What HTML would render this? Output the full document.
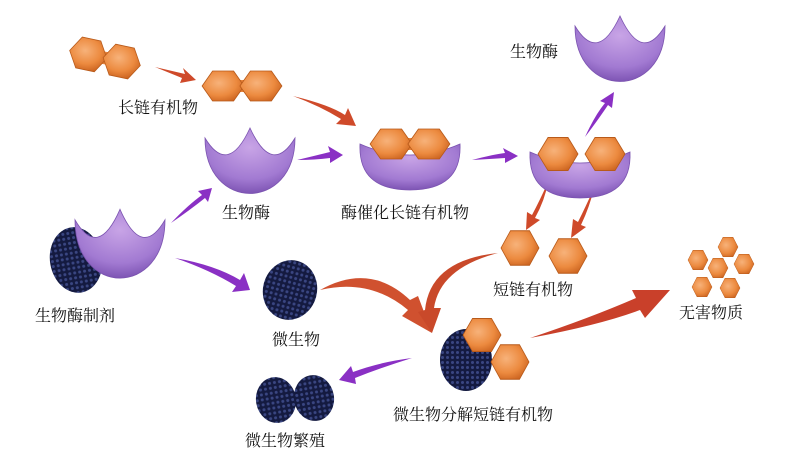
<!DOCTYPE html>
<html><head><meta charset="utf-8"><style>
html,body{margin:0;padding:0;background:#fff;}
svg{display:block}
text{font-family:"Liberation Serif","Noto Serif CJK SC","Noto Sans CJK SC",serif;font-size:16px;fill:#111;}
</style></head><body>
<svg width="800" height="474" viewBox="0 0 800 474" xmlns="http://www.w3.org/2000/svg">
<defs>
<radialGradient id="hx" cx="0.4" cy="0.4" r="0.7"><stop offset="0" stop-color="#f7b27a"/><stop offset="0.6" stop-color="#ec8a3f"/><stop offset="1" stop-color="#c85f1c"/></radialGradient>
<radialGradient id="pu" cx="0.5" cy="0.3" r="0.8"><stop offset="0" stop-color="#c8a4e6"/><stop offset="0.6" stop-color="#a27ad2"/><stop offset="1" stop-color="#6d43a6"/></radialGradient>
<pattern id="cells" width="5" height="5" patternUnits="userSpaceOnUse"><rect width="5" height="5" fill="#141a40"/><circle cx="2.5" cy="2.5" r="1.5" fill="#3a4682"/></pattern>
<polygon id="hex" points="-10,-15 10,-15 20,0 10,15 -10,15 -20,0" fill="url(#hx)" stroke="#b85a1a" stroke-width="0.8"/>
<path id="cup" d="M-45,-24 Q-22,14 0,-34 Q22,14 45,-24 C45,50 -45,50 -45,-24 Z" fill="url(#pu)" stroke="#7b53b0" stroke-width="0.8"/>
<path id="bowl" d="M-50,-16 Q0,6 50,-16 Q52,30 0,30 Q-52,30 -50,-16 Z" fill="url(#pu)" stroke="#7b53b0" stroke-width="0.8"/>
<g id="dumb"><rect x="-8" y="-6" width="18" height="12" fill="#e9843a"/><use href="#hex" x="-18"/><use href="#hex" x="18"/></g>
</defs>

<g transform="translate(105,58) rotate(12) scale(0.95,1.05)"><use href="#dumb"/></g>
<g transform="translate(242,86) scale(1.05,1)"><use href="#dumb"/></g>

<path d="M155,67 L185,74 L183,68 L196,80 L180,83 L182,78 Z" fill="#cf4a2a"/>
<path d="M293,96 Q330,105 345,115 L348,108 L356,126 L336,124 L341,119 Q320,106 293,96 Z" fill="#cf4a2a"/>
<path d="M297,160 Q318,155 330,152 L328,146 L343,155 L330,163 L330,158 Q315,160 297,160 Z" fill="#8a30c4"/>
<path d="M171,223 Q188,205 202,195 L198,191 L212,188 L208,202 L205,198 Q190,210 171,223 Z" fill="#8a30c4"/>
<path d="M472,160 Q495,154 505,153 L503,148 L518,156 L505,163 L505,158 Q490,159 472,160 Z" fill="#8a30c4"/>
<path d="M585,137 Q595,115 605,103 L600,101 L614,92 L612,108 L608,105 Q598,120 585,137 Z" fill="#8a30c4"/>
<path d="M548,182 Q540,200 532,215 L527,212 L526,230 L540,220 L535,218 Q545,200 548,182 Z" fill="#cf4a2a"/>
<path d="M594,188 Q586,206 578,222 L573,219 L571,238 L586,227 L581,225 Q590,206 594,188 Z" fill="#cf4a2a"/>
<path d="M175,258 Q215,265 240,280 L244,273 L250,290 L232,292 L236,286 Q210,270 175,258 Z" fill="#8a30c4"/>
<path d="M412,358 Q380,362 353,372 L351,366 L339,380 L356,384 L355,378 Q380,368 412,358 Z" fill="#8a30c4"/>
<path d="M320,290 Q370,262 410,300 L418,296 L432,333 L402,316 L408,310 Q370,278 320,290 Z" fill="#d0512f"/>
<path d="M498,253 Q430,260 425,310 L418,312 L432,333 L441,308 L434,308 Q440,268 498,253 Z" fill="#c9492a"/>
<path d="M530,338 Q600,325 640,310 L645,318 L670,290 L632,290 L636,298 Q590,318 530,338 Z" fill="#c9402a"/>

<use href="#cup" transform="translate(250,162)"/>
<use href="#cup" transform="translate(620,50)"/>
<ellipse cx="76" cy="260" rx="26" ry="33" fill="url(#cells)" transform="rotate(-10 76 260)"/>
<use href="#cup" transform="translate(120,245) scale(1,1.05)"/>

<use href="#bowl" transform="translate(410,160)"/>
<g transform="translate(410,144) scale(1.05,1)"><use href="#dumb"/></g>
<use href="#bowl" transform="translate(580,168)"/>
<use href="#hex" transform="translate(558,154) scale(1,1.1)"/>
<use href="#hex" transform="translate(605,154) scale(1,1.1)"/>

<use href="#hex" transform="translate(520,248) scale(0.95,1.15)"/>
<use href="#hex" transform="translate(568,256) scale(0.95,1.15)"/>

<ellipse cx="290" cy="290" rx="27" ry="30" fill="url(#cells)" transform="rotate(15 290 290)"/>
<ellipse cx="466" cy="360" rx="26" ry="31" fill="url(#cells)"/>
<use href="#hex" transform="translate(482,335) scale(0.95,1.1)"/>
<use href="#hex" transform="translate(510,362) scale(0.95,1.15)"/>
<ellipse cx="276" cy="400" rx="20" ry="23" fill="url(#cells)" transform="rotate(-10 276 400)"/>
<ellipse cx="314" cy="398" rx="20" ry="23" fill="url(#cells)" transform="rotate(-10 314 398)"/>

<use href="#hex" transform="translate(698,260) scale(0.5,0.65)"/>
<use href="#hex" transform="translate(728,247) scale(0.5,0.65)"/>
<use href="#hex" transform="translate(718,268) scale(0.5,0.65)"/>
<use href="#hex" transform="translate(744,264) scale(0.5,0.65)"/>
<use href="#hex" transform="translate(702,287) scale(0.5,0.65)"/>
<use href="#hex" transform="translate(730,288) scale(0.5,0.65)"/>

<text x="118" y="113">长链有机物</text>
<text x="222" y="218">生物酶</text>
<text x="341" y="218">酶催化长链有机物</text>
<text x="510" y="57">生物酶</text>
<text x="493" y="295">短链有机物</text>
<text x="35" y="321">生物酶制剂</text>
<text x="272" y="345">微生物</text>
<text x="679" y="318">无害物质</text>
<text x="393" y="420">微生物分解短链有机物</text>
<text x="245" y="446">微生物繁殖</text>
</svg>
</body></html>
